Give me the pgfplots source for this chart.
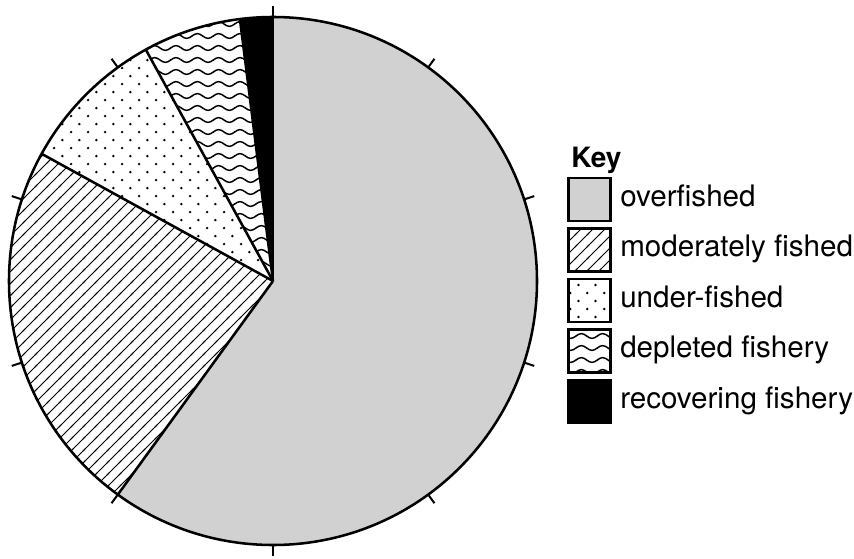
\documentclass[border=0pt]{standalone}
\usepackage{pgfplots}
\pgfplotsset{compat=1.18}
\usepackage{pgfplotstable}
\usetikzlibrary{patterns}
\usepackage{fontspec}
\setmainfont{TeX Gyre Heros}

\definecolor{overgray}{RGB}{209,209,209}

% thin diagonal hatch for the moderately fished slice
\pgfdeclarepatternformonly{hatch}{\pgfpoint{-1pt}{-1pt}}{\pgfpoint{10pt}{10pt}}{\pgfpoint{9pt}{9pt}}{%
  \pgfsetlinewidth{0.65pt}%
  \pgfpathmoveto{\pgfpoint{-1pt}{-1pt}}%
  \pgfpathlineto{\pgfpoint{10pt}{10pt}}%
  \pgfusepath{stroke}%
}
% staggered dots for the under-fished slice
\pgfdeclarepatternformonly{sdots}{\pgfpoint{0pt}{0pt}}{\pgfpoint{12.5pt}{12.3pt}}{\pgfpoint{12.5pt}{12.3pt}}{%
  \pgfpathcircle{\pgfpoint{3.125pt}{3.075pt}}{1.05pt}%
  \pgfpathcircle{\pgfpoint{9.375pt}{9.225pt}}{1.05pt}%
  \pgfusepath{fill}%
}
% wavy lines for the depleted slice
\pgfdeclarepatternformonly{waves}{\pgfpoint{-0.6pt}{1.5pt}}{\pgfpoint{16.6pt}{7.5pt}}{\pgfpoint{16pt}{9pt}}{%
  \pgfsetlinewidth{1.1pt}%
  \pgfsetroundcap
  \pgfpathmoveto{\pgfpoint{0pt}{4.5pt}}%
  \pgfpathsine{\pgfpoint{4pt}{1.8pt}}%
  \pgfpathcosine{\pgfpoint{4pt}{-1.8pt}}%
  \pgfpathsine{\pgfpoint{4pt}{-1.8pt}}%
  \pgfpathcosine{\pgfpoint{4pt}{1.8pt}}%
  \pgfusepath{stroke}%
}

\tikzset{
  slice0/.style={fill=overgray},
  slice1/.style={pattern=hatch},
  slice2/.style={pattern=sdots},
  slice3/.style={pattern=waves},
  slice4/.style={fill=black},
}

\pgfplotstableread[col sep=comma]{
label,share
overfished,60
moderately fished,23
under-fished,9
depleted fishery,6
recovering fishery,2
}\piedata

\begin{document}
\begin{tikzpicture}
\useasboundingbox (0,0) rectangle (640.5pt,418.5pt);
\begin{axis}[
  scale only axis,
  width=640.5pt, height=418.5pt,
  xmin=0, xmax=854, ymin=0, ymax=558,
  hide axis, clip=false,
]
\pgfplotsextra{
  % slices
  \xdef\angA{90}
  \foreach \i in {0,...,4}{
    \pgfplotstablegetelem{\i}{share}\of\piedata
    \pgfmathsetmacro{\angB}{\angA-3.6*\pgfplotsretval}
    \fill[slice\i] (axis cs:273,277) -- ++(\angA:198pt)
      arc[start angle=\angA, end angle=\angB, radius=198pt] -- cycle;
    \xdef\angA{\angB}
  }
  % slice borders
  \xdef\angA{90}
  \foreach \i in {0,...,4}{
    \draw[line width=1.9pt] (axis cs:273,277) -- ++(\angA:198pt);
    \pgfplotstablegetelem{\i}{share}\of\piedata
    \pgfmathsetmacro{\angB}{\angA-3.6*\pgfplotsretval}
    \xdef\angA{\angB}
  }
  \draw[line width=1.9pt] (axis cs:273,277) circle[radius=198pt];
  % ticks every 10%
  \foreach \k in {0,...,9}{
    \draw[line width=1.5pt] (axis cs:273,277) ++(90-36*\k:198pt) -- ++(90-36*\k:8pt);
  }
  % key
  \node[anchor=base west, inner sep=0pt, font=\bfseries\fontsize{21pt}{24pt}\selectfont]
    at (axis cs:571,391) {Key};
  \foreach \i in {0,...,4}{
    \pgfplotstablegetelem{\i}{label}\of\piedata
    \let\lbl\pgfplotsretval
    \pgfmathsetmacro{\yb}{558-206-50.5*\i}
    \pgfmathsetmacro{\ylo}{\yb+6.5-21.5}
    \pgfmathsetmacro{\yhi}{\yb+6.5+21.5}
    \path[slice\i, draw=black, line width=2pt] (axis cs:568.5,\ylo) rectangle (axis cs:610.5,\yhi);
    \node[anchor=base west, inner sep=0pt, font=\fontsize{22.2pt}{26pt}\selectfont]
      at (axis cs:620,\yb) {\lbl};
  }
}
\end{axis}
\end{tikzpicture}
\end{document}
